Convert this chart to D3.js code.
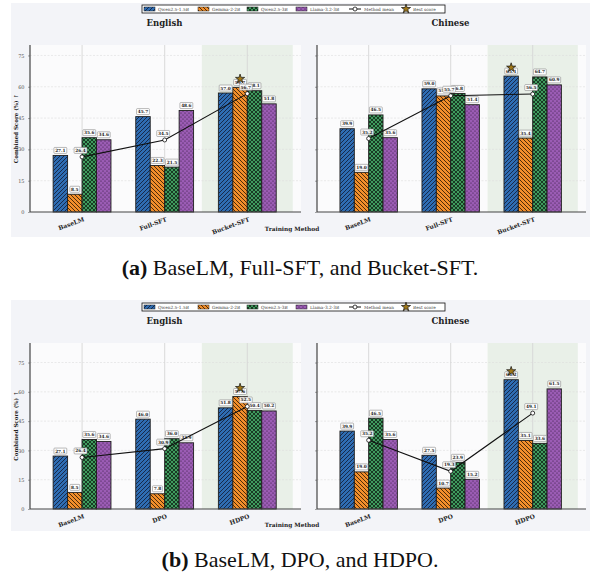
<!DOCTYPE html>
<html><head><meta charset="utf-8">
<script src="https://cdn.jsdelivr.net/npm/d3@7"></script>
<style>body{margin:0;background:#fff;}svg{display:block;}</style>
</head><body><svg id="c" width="597" height="578"></svg>
<script>
const models = ["Qwen2.5-1.5B","Gemma-2-2B","Qwen2.5-3B","Llama-3.2-3B"];
const methodsA = ["BaseLM","Full-SFT","Bucket-SFT"];
const methodsB = ["BaseLM","DPO","HDPO"];
const englishA = [[27.1,8.5,35.6,34.6],[45.7,22.3,21.5,48.6],[57.0,59.7,58.1,51.8]];
const chineseA = [[39.9,19.0,46.5,35.6],[59.0,55.6,56.8,51.4],[65.1,35.4,64.7,60.9]];
const englishMeanA = [26.4,34.5,56.7];
const chineseMeanA = [35.2,55.7,56.5];
const englishB = [[27.1,8.5,35.6,34.6],[46.0,7.8,36.0,33.9],[51.8,57.6,50.4,50.2]];
const chineseB = [[39.9,19.0,46.5,35.6],[27.5,10.7,23.9,15.2],[66.2,35.1,33.6,61.5]];
const englishMeanB = [26.4,30.9,52.5];
const chineseMeanB = [35.2,19.3,49.1];
const yTicks = [0,15,30,45,60,75];
const captionA = ["(a)"," BaseLM, Full-SFT, and Bucket-SFT."];
const captionB = ["(b)"," BaseLM, DPO, and HDPO."];

const svg = d3.select("#c");
const SERIF = "'DejaVu Serif', serif";
const defs = svg.append("defs");
function pat(id, bg, draw){
  const p = defs.append("pattern").attr("id",id).attr("patternUnits","userSpaceOnUse")
    .attr("width",4).attr("height",4);
  p.append("rect").attr("width",4).attr("height",4).attr("fill",bg);
  draw(p);
}
pat("p0","#2f6db3",p=>p.append("path").attr("d","M-1,1L1,-1M0,4L4,0M3,5L5,3").attr("stroke","#14233f").attr("stroke-width",0.9));
pat("p1","#f28e2b",p=>p.append("path").attr("d","M-1,3L1,5M0,0L4,4M3,-1L5,1").attr("stroke","#3a2104").attr("stroke-width",0.9));
pat("p2","#3f9b5e",p=>p.append("path").attr("d","M-1,1L1,-1M0,4L4,0M3,5L5,3M-1,3L1,5M0,0L4,4M3,-1L5,1").attr("stroke","#15301d").attr("stroke-width",0.9));
pat("p3","#9b5cb4",p=>{p.append("circle").attr("cx",1).attr("cy",1).attr("r",0.6).attr("fill","#2a1533");p.append("circle").attr("cx",3).attr("cy",3).attr("r",0.6).attr("fill","#2a1533");});
const fills = ["url(#p0)","url(#p1)","url(#p2)","url(#p3)"];

const starPath = d3.symbol().type(d3.symbolStar).size(26)();

function labelBox(g, x, y, text, fs){
  const t = g.append("text").attr("x",x).attr("y",y).attr("text-anchor","middle")
    .attr("dominant-baseline","central").attr("font-family",SERIF).attr("font-weight","bold")
    .attr("font-size",fs).attr("fill","#222").text(text);
  const bb = t.node().getBBox();
  g.insert("rect", () => t.node()).attr("x",bb.x-1.2).attr("y",y-3).attr("width",bb.width+2.4).attr("height",6)
    .attr("rx",0.8).attr("fill","#fff").attr("fill-opacity",0.92).attr("stroke","#8a8a8a").attr("stroke-width",0.6);
}

function legend(top){
  const g = svg.append("g");
  g.append("rect").attr("x",142).attr("y",top).attr("width",303).attr("height",8)
    .attr("fill","#fff").attr("stroke","#111").attr("stroke-width",0.8);
  const sx = [144,198,247,296];
  models.forEach((m,i)=>{
    g.append("rect").attr("x",sx[i]).attr("y",top+2).attr("width",11).attr("height",4)
      .attr("fill",fills[i]).attr("stroke","#222").attr("stroke-width",0.5);
    g.append("text").attr("x",sx[i]+14).attr("y",top+5.6).attr("font-family",SERIF)
      .attr("font-size",4.3).attr("fill","#444").text(m);
  });
  g.append("line").attr("x1",349).attr("x2",361).attr("y1",top+4).attr("y2",top+4).attr("stroke","#111").attr("stroke-width",1);
  g.append("circle").attr("cx",355).attr("cy",top+4).attr("r",2).attr("fill","#fff").attr("stroke","#111").attr("stroke-width",0.8);
  g.append("text").attr("x",364).attr("y",top+5.6).attr("font-family",SERIF).attr("font-size",4.3).attr("fill","#444").text("Method mean");
  g.append("path").attr("d",starPath).attr("transform",`translate(406,${top+4})`).attr("fill","#a07818").attr("stroke","#111").attr("stroke-width",0.7);
  g.append("text").attr("x",413).attr("y",top+5.6).attr("font-family",SERIF).attr("font-size",4.3).attr("fill","#444").text("Best score");
}

function panel(opts){
  const {x0,x1,yTop,yBot,ymax,methods,data,means,title,showY} = opts;
  const g = svg.append("g");
  const x = d3.scaleLinear().domain([-0.63,2.65]).range([x0,x1]);
  const y = d3.scaleLinear().domain([0,ymax]).range([yBot,yTop]);
  g.append("rect").attr("x",x0).attr("y",yTop).attr("width",x1-x0).attr("height",yBot-yTop).attr("fill","#fbfbfc");
  g.append("rect").attr("x",x(1.45)).attr("y",yTop).attr("width",x(2.55)-x(1.45)).attr("height",yBot-yTop)
    .attr("fill","#e9f0e8");
  g.selectAll(".hg").data(yTicks.slice(1)).join("line").attr("x1",x0).attr("x2",x1)
    .attr("y1",d=>y(d)).attr("y2",d=>y(d)).attr("stroke","#dedede").attr("stroke-width",0.6).attr("stroke-dasharray","2,1.5");
  g.selectAll(".vg").data(methods).join("line").attr("x1",(d,i)=>x(i)).attr("x2",(d,i)=>x(i))
    .attr("y1",yTop).attr("y2",yBot).attr("stroke","#d6d6d6").attr("stroke-width",0.9);
  svg.append("text").attr("x",(x0+x1)/2 - 1).attr("y",opts.titleY).attr("text-anchor","middle")
    .attr("font-family",SERIF).attr("font-weight","bold").attr("font-size",8.5).attr("fill","#222").text(title);
  const w = 0.175;
  data.forEach((row,i)=>{
    row.forEach((v,j)=>{
      const bx = i + (j-2)*w;
      g.append("rect").attr("x",x(bx)).attr("y",y(v)).attr("width",x(bx+w)-x(bx)).attr("height",y(0)-y(v))
        .attr("fill",fills[j]).attr("stroke","#1e1e1e").attr("stroke-width",0.9);
    });
  });
  const ya = d3.axisLeft(y).tickValues(yTicks).tickSize(2).tickFormat(showY? d3.format("d") : "");
  const ag = g.append("g").attr("transform",`translate(${x0},0)`).call(ya);
  ag.select(".domain").remove();
  ag.selectAll("line").attr("stroke","#666").attr("stroke-width",0.6);
  ag.selectAll("text").attr("font-family",SERIF).attr("font-size",5).attr("fill","#555").attr("dx",-0.5);
  g.append("line").attr("x1",x0).attr("x2",x0).attr("y1",yTop).attr("y2",yBot).attr("stroke","#444").attr("stroke-width",1.2);
  g.append("line").attr("x1",x0).attr("x2",x1).attr("y1",yBot).attr("y2",yBot).attr("stroke","#444").attr("stroke-width",1.2);
  methods.forEach((m,i)=>{
    g.append("text").attr("transform",`translate(${x(i)+1},${yBot+4.5}) rotate(-20)`)
      .attr("text-anchor","end").attr("dominant-baseline","hanging").attr("font-family",SERIF).attr("font-weight","bold")
      .attr("font-size",6).attr("fill","#222").text(m);
  });
  data.forEach((row,i)=>{
    row.forEach((v,j)=>{
      const cx = x(i + (j-1.5)*w);
      labelBox(g, cx, y(v)-5, v.toFixed(1), 4.3);
    });
  });
  const line = d3.line().x((d,i)=>x(i)).y(d=>y(d));
  g.append("path").attr("d",line(means)).attr("fill","none").attr("stroke","#111").attr("stroke-width",1.1);
  means.forEach((m,i)=>{
    g.append("circle").attr("cx",x(i)).attr("cy",y(m)).attr("r",2).attr("fill","#fff").attr("stroke","#111").attr("stroke-width",0.8);
  });
  means.forEach((m,i)=>{ labelBox(g, x(i)-1.5, y(m)-6.5, m.toFixed(1), 4.3); });
  let best = {v:-1,i:0,j:0};
  data.forEach((row,i)=>row.forEach((v,j)=>{ if(v>best.v) best={v,i,j}; }));
  g.append("path").attr("d",starPath).attr("transform",`translate(${x(best.i+(best.j-1.5)*w)},${y(best.v)-8.5})`)
    .attr("fill","#a07818").attr("stroke","#111").attr("stroke-width",0.7);
}

function figure(o){
  svg.append("rect").attr("x",11).attr("y",o.bgTop).attr("width",579).attr("height",o.bgBot-o.bgTop).attr("fill","#f3f4f8");
  panel({x0:30,x1:301,yTop:o.yTop,yBot:o.yBot,ymax:o.ymax,methods:o.methods,data:o.en,means:o.enMean,title:"English",titleY:o.titleY,showY:true});
  panel({x0:317,x1:586,yTop:o.yTop,yBot:o.yBot,ymax:o.ymax,methods:o.methods,data:o.zh,means:o.zhMean,title:"Chinese",titleY:o.titleY,showY:false});
  legend(o.legTop);
  svg.append("text").attr("transform",`translate(18,${(o.yTop+o.yBot)/2}) rotate(-90)`).attr("text-anchor","middle")
    .attr("font-family",SERIF).attr("font-weight","bold").attr("font-size",5.5).attr("fill","#222").text("Combined Score (%) ↑");
  svg.append("text").attr("x",292).attr("y",o.xlabY).attr("text-anchor","middle")
    .attr("font-family",SERIF).attr("font-weight","bold").attr("font-size",5.8).attr("fill","#222").text("Training Method");
  const cap = svg.append("text").attr("x",300).attr("y",o.capY).attr("text-anchor","middle")
    .attr("font-family","'Liberation Serif', 'Times New Roman', serif").attr("font-size",22).attr("fill","#111");
  cap.append("tspan").attr("font-weight","bold").text(o.caption[0]);
  cap.append("tspan").text(o.caption[1]);
}

figure({bgTop:3,bgBot:237,legTop:5,titleY:26,yTop:45,yBot:212,ymax:80,xlabY:231,capY:275,
  methods:methodsA,en:englishA,zh:chineseA,enMean:englishMeanA,zhMean:chineseMeanA,caption:captionA});
figure({bgTop:300,bgBot:531,legTop:303,titleY:324,yTop:343,yBot:509,ymax:85,xlabY:527,capY:567,
  methods:methodsB,en:englishB,zh:chineseB,enMean:englishMeanB,zhMean:chineseMeanB,caption:captionB});
</script></body></html>
